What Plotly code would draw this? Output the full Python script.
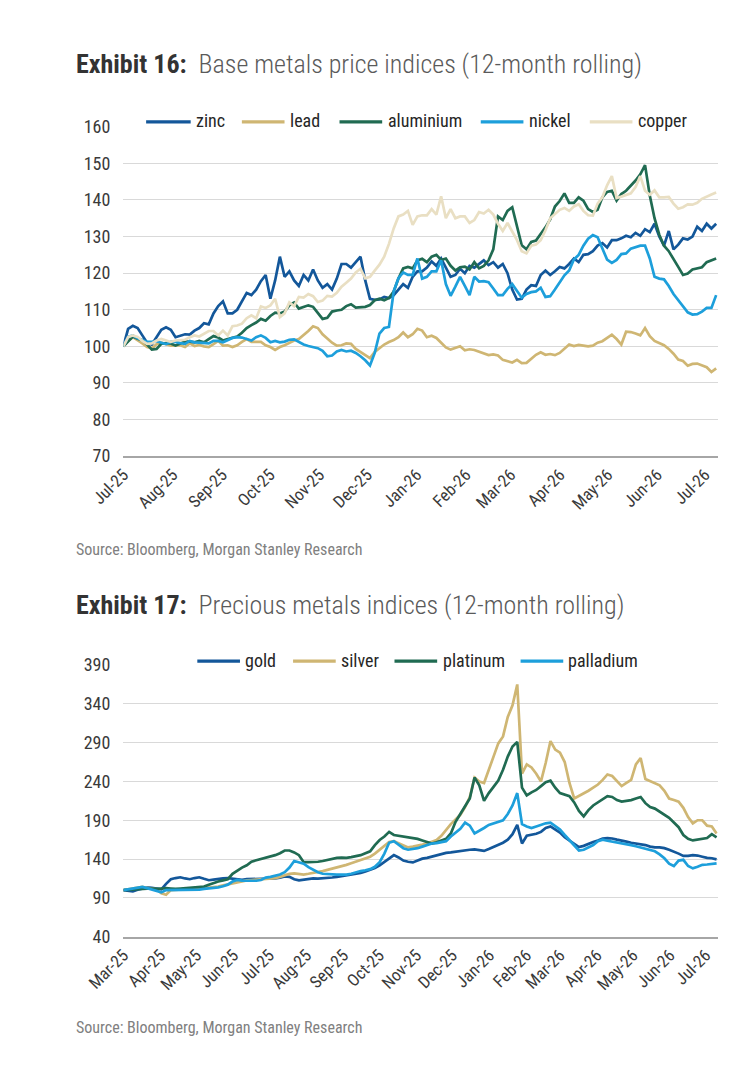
import pandas as pd
import plotly.graph_objects as go

# ---------------- data: Exhibit 16 (base metals, index, 3-day sampling) ----------------
base_start = "2025-07-01"
base_span_days = 372

zinc = [100, 104.8, 105.6, 105, 103, 101, 100.5, 102.5, 104.5, 105.2,
        104.5, 102.5, 103, 103.3, 103.2, 104.3, 105, 106.3, 106, 109,
        111, 112.3, 109, 109, 110, 112.5, 114.6, 114, 115.5, 117.8,
        119.5, 113, 118, 124.5, 119, 120.5, 118, 116.5, 119.5, 118,
        121, 118, 116, 117, 115.5, 118.5, 122.5, 122.5, 121.5, 123,
        124.5, 118, 113, 112.7, 112.8, 113.5, 113.2, 114, 115.5, 117,
        116, 119, 120.5, 120.5, 121.5, 123.2, 122, 124, 121.5, 119,
        119.5, 121.2, 120, 122, 121.5, 122.5, 123.5, 122.2, 123, 121.5,
        122.5, 120, 115.5, 112.8, 113, 115.5, 116.7, 116.5, 119.5, 120.7,
        119.5, 120.5, 121.7, 121.3, 122.5, 124, 123, 125, 125.2, 126,
        127.5, 128.2, 127, 129, 129, 129.5, 130.2, 129.8, 131, 130.2,
        132, 131.2, 133.5, 130, 127.5, 131.5, 126.5, 127.8, 129.5, 129.2,
        130, 132.7, 131.5, 133.5, 132.2, 133.5]

lead = [100, 101.5, 102.5, 101.7, 100.8, 99.8, 99.5, 100.6, 101, 100.6,
        100.2, 100.2, 100.3, 99.8, 100.8, 100.1, 100.4, 100, 99.8, 100.6,
        101.5, 100.2, 100.3, 99.8, 100.3, 101.2, 102, 101.2, 101.3, 101.2,
        100.3, 99.8, 99, 99.8, 100.3, 101, 101.6, 102, 103, 104.2,
        105.5, 105, 103.3, 102.2, 101, 100.2, 100.3, 100.8, 100.7, 99.3,
        98.5, 97.7, 96.8, 98.5, 99.5, 100.5, 101.2, 101.7, 102.5, 103.8,
        102.5, 103.3, 104.8, 104.3, 102.5, 102.9, 102.3, 101, 99.7, 99.1,
        99.5, 100, 98.9, 99.2, 99, 98.6, 98, 97.6, 97.8, 97.5,
        96.3, 96, 95.6, 96.3, 95.4, 95.5, 96.5, 97.7, 98.4, 97.7,
        97.9, 97.6, 98.2, 99.3, 100.5, 100.1, 100.4, 100.2, 100, 100.2,
        101, 101.4, 102.2, 103.2, 102, 100.5, 104, 103.9, 103.5, 103,
        105, 102.8, 101.5, 101, 100.3, 99.3, 98, 96.4, 96, 94.7,
        95.2, 95.3, 94.8, 94.3, 93, 94]

aluminium = [100, 101.5, 102.7, 102.1, 101.7, 100.5, 99.1, 99.3, 100.7, 100.9,
             100.8, 100.2, 100.7, 101.3, 101.3, 101.1, 101.5, 101.1, 102, 102.8,
             102.4, 101.6, 102, 102.4, 102.7, 103.7, 105, 105.8, 106.5, 107.5,
             107, 108.3, 109.2, 109, 109.5, 111.2, 112, 110.3, 110.7, 111.2,
             110.8, 109.2, 107.5, 107.8, 109.5, 109.8, 110, 111, 111.5, 110.6,
             110.8, 110.8, 111.3, 112.6, 113, 112.6, 113.2, 115, 118.5, 121.3,
             121.7, 121.3, 123.5, 123.9, 123, 124.5, 125, 123.6, 124, 122,
             120.7, 121.6, 121.8, 121, 123, 121.3, 122, 123.5, 126.5, 135.5,
             134.5, 137, 138, 133, 127.6, 126.5, 128.5, 128.9, 130.7, 132.5,
             134.7, 138.2, 139.7, 141.8, 139.2, 139.2, 140.7, 139.8, 137.5, 136.7,
             137.3, 140.7, 142.2, 142.5, 139.8, 141.6, 142.5, 143.8, 145.3, 147,
             149.5, 141.2, 135, 130.5, 127.5, 126, 124, 121.7, 119.5, 119.9,
             121, 121.4, 121.6, 123, 123.5, 124]

nickel = [100, 102.6, 103, 102.2, 101.7, 101.2, 101.2, 101.4, 101, 100.6,
          101.2, 101.2, 100.9, 100.7, 101.5, 101.1, 101, 100.8, 100.8, 101.5,
          101.5, 101.1, 101.7, 102.3, 102.5, 102.4, 102, 101.6, 102.5, 103,
          102.3, 101.1, 101.5, 101.1, 101.3, 101.8, 101.9, 101.2, 100.5, 100.1,
          99.7, 99.5, 98.8, 97.3, 97.5, 98.6, 99, 98.6, 98.8, 98.2,
          97.3, 96.2, 94.8, 98.2, 103.5, 105, 105.3, 115, 118.6, 120.2,
          119.5, 119.5, 124, 118.5, 119, 120.5, 120.5, 123.5, 117, 113.8,
          116.3, 119, 116.5, 114, 119, 117.7, 117.8, 117.5, 115.8, 114,
          114, 115.7, 117, 115, 113.3, 114.3, 114.8, 115, 116, 113.5,
          113.7, 115.5, 117.3, 119.4, 120.7, 123.7, 125, 127.5, 129.4, 130.4,
          129.8, 126.5, 123.7, 122.8, 123.6, 125.2, 125.4, 126.7, 127, 127.5,
          127.5, 124, 119, 118.5, 118.3, 116.5, 114.3, 112.6, 111, 109.3,
          108.7, 108.8, 109.5, 110.5, 110.5, 114]

copper = [100, 102.5, 103, 102.6, 101.5, 100.7, 100.8, 101.6, 102, 101.6,
          101.2, 101.6, 101.8, 101.8, 102.5, 103, 102.7, 103.5, 104.2, 104.2,
          103, 104.3, 103, 105.5, 105.7, 106.2, 107.7, 108.5, 107.7, 110.9,
          110.5, 111.2, 113, 108, 109, 112, 111, 113.5, 113.3, 114.3,
          113.7, 112.1, 112.5, 113.8, 113.6, 114.6, 116.3, 117.4, 118.5, 120.2,
          121.2, 118.6, 119, 120.7, 122.3, 124.5, 128, 132.2, 135.5, 136,
          137, 133.2, 135.5, 135.8, 135.8, 137.5, 136, 141, 135, 137.5,
          135, 135.5, 135.5, 133.7, 134.5, 136.7, 136.3, 137.3, 136, 133.5,
          131.5, 133.7, 131.5, 129, 126, 125.4, 127.5, 127.8, 129, 131.7,
          135, 136.1, 137.3, 137.8, 137, 138.2, 138.8, 137, 135.8, 135.7,
          139, 140.7, 144, 146.5, 140.5, 140.9, 141.3, 141.8, 143.5, 146.5,
          142.5, 141.4, 142.6, 140.7, 140.7, 140.8, 139, 137.6, 138, 138.8,
          138.7, 139.2, 140.3, 141, 141.5, 142]

# ---------------- data: Exhibit 17 (precious metals, index, ~4-day sampling) ----------------
prec_start = "2025-03-01"
prec_span_days = 496

gold = [100, 99, 98.5, 100.5, 102.5, 103.5, 103, 102, 101, 108,
        114, 115.5, 116.5, 115, 114, 115.5, 116.5, 114.5, 112.7, 113.5,
        114.5, 115, 115.5, 114.7, 114, 113.3, 114, 114.2, 113.8, 114,
        114.3, 114.5, 115, 116, 117.5, 117, 114, 112.5, 113.5, 114.7,
        115, 114.8, 115, 115.6, 116.2, 117, 118, 119, 120, 121,
        122, 124, 126, 128.5, 132, 136, 141, 145, 142, 138,
        136.5, 135.6, 138, 140.5, 141.5, 143, 145, 147, 148, 148.5,
        149.5, 150.5, 151, 152, 152.5, 151, 150.5, 153, 155.5, 158,
        161, 165, 172, 184, 160, 170, 171, 172.5, 175, 180,
        182, 178, 174, 168, 164, 160, 155.5, 157, 160, 162,
        164, 166.5, 167, 166.5, 165, 164, 162.5, 161, 160, 159,
        158, 156, 155, 155, 154, 152, 150, 147, 144, 144,
        145, 144.5, 143, 141.5, 141, 139.5]

silver = [100, 101, 102, 103, 104, 103, 102, 101, 96, 94,
          100, 100.5, 101, 101.3, 101.5, 102, 102, 102.5, 103.5, 104,
          104.5, 106, 107, 108.5, 110, 111.5, 112.5, 113, 113.5, 114,
          114.5, 115, 115.5, 117, 119, 121, 121.5, 120.5, 120, 121,
          122, 123, 124.5, 126, 127.5, 129, 130.5, 132.5, 134.5, 136.5,
          138, 140.5, 143, 147, 152, 157, 162, 163, 160, 157,
          155, 156, 157, 158.5, 160, 162, 164.5, 170, 178, 185,
          191, 197, 207, 220, 245, 240, 238, 256, 272, 289,
          298, 323, 338, 365, 250, 262, 258, 250, 240, 264,
          292, 281, 277, 265, 238, 218, 221, 224, 228, 232,
          236, 242, 249, 247, 240, 234, 238, 242, 262, 270,
          243, 240, 237, 235, 228, 218, 216, 214, 206, 194,
          186, 190, 190, 183, 182, 173]

platinum = [100, 100.5, 101, 101.5, 102, 102, 102, 101.5, 102, 102.5,
            102, 101.5, 102, 102.5, 103, 103.5, 104, 104.5, 107, 109.5,
            111, 112.5, 114, 121, 125.5, 129, 132, 136.5, 138.5, 140,
            141.6, 143, 145, 147.5, 151, 151, 148.6, 145, 136, 136,
            136, 136.5, 137.5, 139, 140.5, 141.5, 141.8, 141.6, 142.5, 143.5,
            145, 147.5, 150, 158, 164.5, 169, 175, 171, 170, 169,
            168.5, 167.5, 166, 164, 162, 160, 161.5, 163.5, 166, 173,
            188, 198, 208, 218, 245, 235, 215, 225, 233, 241,
            255, 272, 285, 291, 232, 222, 226, 229, 234, 239,
            241, 232, 225, 223, 221, 213, 202, 195, 203, 209,
            213, 217, 221, 220, 216, 214, 215, 216, 218, 220,
            212, 207, 205, 201, 197, 193, 187, 181, 171, 166,
            164, 165, 166, 167, 172, 168]

palladium = [100, 101, 102, 103, 104, 102.5, 100.5, 98.5, 97, 100,
             100, 100.5, 100, 100, 100.5, 100, 100.5, 101.5, 102, 103,
             103.5, 105, 107, 111, 113, 112.3, 112, 112, 112, 113,
             116, 117, 118.5, 120, 123, 129, 137.5, 136, 134, 129.5,
             126, 123, 121, 120.5, 120, 120, 120, 120, 121, 123,
             124.5, 125.5, 127, 130, 136, 147, 161, 163, 158, 154,
             152, 153, 154, 156, 158, 160, 160.5, 161.5, 163, 169,
             174.5, 179, 187, 183, 173, 176, 180, 184, 186, 188,
             190, 198, 209, 225, 185, 182, 180, 182, 184, 186,
             187, 183, 178, 171, 164, 158, 151, 152, 155, 158,
             163, 165, 163.5, 162.5, 161.5, 160.5, 159, 158, 156.5, 155,
             153.5, 152, 150, 146, 141, 134, 131, 138, 139, 131,
             128, 130, 132.5, 133, 134, 134.5]

base_names = ["zinc", "lead", "aluminium", "nickel", "copper"]
prec_names = ["gold", "silver", "platinum", "palladium"]
base_ticks = ["2025-07-01", "2026-07-01"]
prec_ticks = ["2025-03-01", "2026-07-01"]

# ---------------- styling ----------------
C_DBLUE = "#13579a"
C_TAN = "#cfb673"
C_GREEN = "#206b52"
C_LBLUE = "#1d9fdb"
C_BEIGE = "#e9dfc3"
base_colors = [C_DBLUE, C_TAN, C_GREEN, C_LBLUE, C_BEIGE]
prec_colors = [C_DBLUE, C_TAN, C_GREEN, C_LBLUE]

W, H = 750, 1080
FONT = "Roboto Condensed, Roboto, sans-serif"


def px(x):
    return x / W


def py(y):
    return 1 - y / H


def sample_dates(start, span_days, n):
    step = pd.Timedelta(days=span_days / (n - 1))
    t0 = pd.Timestamp(start)
    return [t0 + step * i for i in range(n)]


fig = go.Figure()

for name, vals, col in zip(base_names, [zinc, lead, aluminium, nickel, copper], base_colors):
    fig.add_trace(go.Scatter(x=sample_dates(base_start, base_span_days, len(vals)), y=vals,
                             mode="lines", name=name, line=dict(color=col, width=2.7),
                             xaxis="x", yaxis="y", showlegend=False))

for name, vals, col in zip(prec_names, [gold, silver, platinum, palladium], prec_colors):
    fig.add_trace(go.Scatter(x=sample_dates(prec_start, prec_span_days, len(vals)), y=vals,
                             mode="lines", name=name, line=dict(color=col, width=2.7),
                             xaxis="x2", yaxis="y2", showlegend=False))

tickfont = dict(family=FONT, size=17, color="#3a3a3a")
ytickfont = dict(family=FONT, size=18, color="#3a3a3a")
xdom = [px(89), px(716)]

common_x = dict(type="date", dtick="M1", tickformat="%b-%y", tickangle=-45,
                showgrid=False, showline=True, linecolor="#a6a6a6", linewidth=2,
                ticks="", tickfont=tickfont, zeroline=False, fixedrange=True)
common_y = dict(showgrid=True, gridcolor="#d9d9d9", gridwidth=1, ticks="",
                zeroline=False, showline=False, tickfont=ytickfont,
                ticklabelstandoff=12, fixedrange=True)

fig.update_layout(
    width=W, height=H, margin=dict(l=0, r=0, t=0, b=0),
    paper_bgcolor="white", plot_bgcolor="white",
    xaxis=dict(domain=xdom, anchor="y", range=["2025-07-01", "2026-07-09"],
               tick0=base_ticks[0], **common_x),
    yaxis=dict(domain=[py(454), py(118)], anchor="x", range=[70, 160],
               tick0=70, dtick=10, **common_y),
    xaxis2=dict(domain=xdom, anchor="y2", range=["2025-03-01", "2026-07-11"],
                tick0=prec_ticks[0], **common_x),
    yaxis2=dict(domain=[py(944), py(667)], anchor="x2", range=[40, 390],
                tick0=40, dtick=50, **common_y),
    showlegend=False,
)

annotations = []
shapes = []

# titles
GAP = "\u00a0\u00a0"
SUB = "<span style='color:#5a5a5a;font-weight:300'>"
annotations.append(dict(
    x=px(37), y=py(54), xref="paper", yref="paper", xanchor="left", yanchor="middle",
    showarrow=False,
    text="<b>Exhibit 16:</b>" + GAP + SUB + "Base metals price indices (12-month rolling)</span>",
    font=dict(family=FONT, size=26, color="#333333")))
annotations.append(dict(
    x=px(37), y=py(606), xref="paper", yref="paper", xanchor="left", yanchor="middle",
    showarrow=False,
    text="<b>Exhibit 17:</b>" + GAP + SUB + "Precious metals indices (12-month rolling)</span>",
    font=dict(family=FONT, size=26, color="#333333")))

# sources
for yy in (549, 1037):
    annotations.append(dict(
        x=px(37), y=py(yy), xref="paper", yref="paper", xanchor="left", yanchor="middle",
        showarrow=False, text="Source: Bloomberg, Morgan Stanley Research",
        font=dict(family=FONT, size=16, color="#808080")))

# legends (line sample + label)
leg1 = [(113, 160, 163), (214, 259, 263), (317, 362, 366), (466, 511, 515), (581, 626, 630)]
for (x0, x1, xt), name, col in zip(leg1, base_names, base_colors):
    shapes.append(dict(type="line", xref="paper", yref="paper", x0=px(x0), x1=px(x1),
                       y0=py(113), y1=py(113), line=dict(color=col, width=3.2)))
    annotations.append(dict(x=px(xt), y=py(112), xref="paper", yref="paper", xanchor="left",
                            yanchor="middle", showarrow=False, text=name,
                            font=dict(family=FONT, size=18, color="#262626")))

leg2 = [(167, 212, 215), (268, 313, 316), (375, 420, 424), (508, 553, 556)]
for (x0, x1, xt), name, col in zip(leg2, prec_names, prec_colors):
    shapes.append(dict(type="line", xref="paper", yref="paper", x0=px(x0), x1=px(x1),
                       y0=py(663), y1=py(663), line=dict(color=col, width=3.2)))
    annotations.append(dict(x=px(xt), y=py(662), xref="paper", yref="paper", xanchor="left",
                            yanchor="middle", showarrow=False, text=name,
                            font=dict(family=FONT, size=18, color="#262626")))

fig.update_layout(annotations=annotations, shapes=shapes)

fig.write_html("out.html")
